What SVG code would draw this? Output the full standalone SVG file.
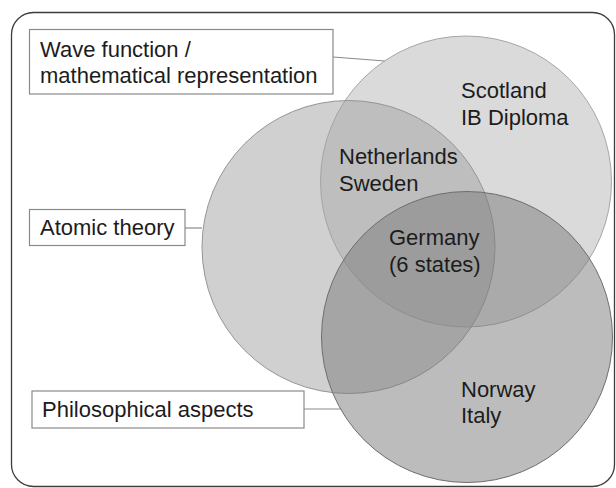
<svg xmlns="http://www.w3.org/2000/svg" width="616" height="488" viewBox="0 0 616 488">
<style>
text{font-family:"Liberation Sans",Arial,sans-serif;font-size:22px;fill:#1c1c1c}
.box{fill:#fff;stroke:#8a8a8a;stroke-width:1.2}
.conn{stroke:#8a8a8a;stroke-width:1.2;fill:none}
.c{fill-opacity:0.5;stroke-width:1}
</style>
<rect id="frame" x="11.5" y="12.5" width="603" height="474" rx="22" ry="22" fill="#fff" stroke="#3c3c3c" stroke-width="1.3"/>
<g id="connectors">
<line class="conn" x1="333" y1="57" x2="385" y2="61"/>
<line class="conn" x1="185" y1="228" x2="202" y2="228"/>
<line class="conn" x1="304" y1="409" x2="341" y2="409"/>
</g>
<g id="circle-wave">
<circle class="c" cx="466" cy="181.5" r="145.5" fill="#b5b5b5" stroke="#a6a6a6"/>
</g>
<g id="circle-atomic">
<circle class="c" cx="348.5" cy="247" r="146.5" fill="#a1a1a1" stroke="#959595"/>
</g>
<g id="circle-philosophical">
<circle class="c" cx="467" cy="337" r="145.5" fill="#797979" stroke="#6e6e6e"/>
</g>
<g id="label-scotland">
<text x="461" y="98">Scotland</text>
<text x="461" y="125">IB Diploma</text>
</g>
<g id="label-netherlands">
<text x="339" y="164">Netherlands</text>
<text x="339" y="191">Sweden</text>
</g>
<g id="label-germany">
<text x="389" y="245">Germany</text>
<text x="389" y="272">(6 states)</text>
</g>
<g id="label-norway">
<text x="461" y="397">Norway</text>
<text x="461" y="423">Italy</text>
</g>
<g id="box-wave">
<rect class="box" x="29.5" y="29.5" width="303.5" height="64.5"/>
<text x="40" y="57">Wave function /</text>
<text x="40" y="83">mathematical representation</text>
</g>
<g id="box-atomic">
<rect class="box" x="29.5" y="209.5" width="155.5" height="36"/>
<text x="40" y="235">Atomic theory</text>
</g>
<g id="box-philosophical">
<rect class="box" x="32" y="391" width="272" height="37"/>
<text x="42" y="417">Philosophical aspects</text>
</g>
</svg>
